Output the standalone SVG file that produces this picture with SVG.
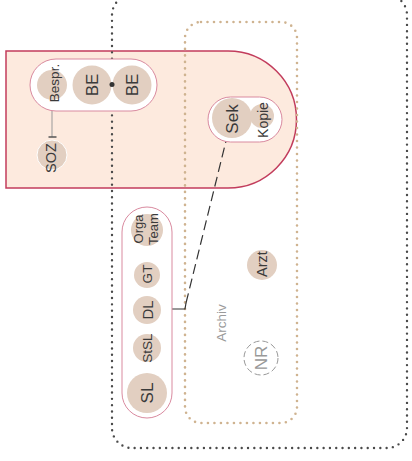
<svg xmlns="http://www.w3.org/2000/svg" width="412" height="461" viewBox="0 0 412 461">
<style>
.lbl{font-family:"Liberation Sans",Arial,sans-serif;fill:#3a3a3a;text-anchor:middle;dominant-baseline:central}
.c{fill:#e2cfc1}
.pill{fill:#fff;stroke:#d98a9f;stroke-width:1}
</style>
<rect width="412" height="461" fill="#fff"/>
<g id="zone-red">
<path d="M6,51 H228 A68.5,68.5 0 0 1 228,188 H6 Z" fill="#fdeade" stroke="#c23c5c" stroke-width="1.5"/>
</g>
<g id="zone-outer">
<rect x="112" y="-5" width="295" height="453" rx="20" fill="none" stroke="#4a4a4a" stroke-width="2.4" stroke-linecap="round" stroke-dasharray="0 6.3"/>
</g>
<g id="zone-archiv">
<rect x="185" y="22" width="112" height="401" rx="16" fill="none" stroke="#cfb390" stroke-width="2.6" stroke-linecap="round" stroke-dasharray="0 6.5"/>
<text class="lbl" transform="translate(221,323) rotate(-90)" font-size="13.5" style="fill:#9a9a9a">Archiv</text>
</g>
<g id="connectors">
<line x1="52" y1="111" x2="52" y2="137" stroke="#999" stroke-width="1"/>
<line x1="48.5" y1="137" x2="56.5" y2="137" stroke="#555" stroke-width="1.5"/>
<polyline points="172,309 185,309 186,303" fill="none" stroke="#333" stroke-width="1.2"/>
<line x1="186" y1="303" x2="226" y2="141" stroke="#333" stroke-width="1.2" stroke-dasharray="10 5"/>
</g>
<g id="grp-be">
<rect class="pill" x="30" y="59" width="127" height="52" rx="26"/>
<circle class="c" cx="52" cy="85" r="15"/>
<text class="lbl" transform="translate(54,83) rotate(-90)" font-size="13.5">Bespr.</text>
<circle class="c" cx="92" cy="85" r="19.5"/>
<text class="lbl" transform="translate(92,85) rotate(-90)" font-size="17">BE</text>
<circle class="c" cx="132" cy="85" r="19.5"/>
<text class="lbl" transform="translate(132,85) rotate(-90)" font-size="17">BE</text>
<circle cx="112" cy="84.5" r="2.5" fill="#333"/>
</g>
<g id="soz">
<circle class="c" cx="52" cy="155" r="15" stroke="#fff" stroke-width="1"/>
<text class="lbl" transform="translate(51,158) rotate(-90)" font-size="14.5">SOZ</text>
</g>
<g id="grp-sek">
<rect class="pill" x="208" y="97" width="74" height="45" rx="22.5"/>
<circle class="c" cx="232" cy="118" r="20"/>
<text class="lbl" transform="translate(232,119) rotate(-90)" font-size="17">Sek</text>
<circle class="c" cx="262" cy="116" r="12"/>
<text class="lbl" transform="translate(262.5,120) rotate(-90)" font-size="14">Kopie</text>
</g>
<g id="grp-team">
<rect class="pill" x="122" y="207" width="50" height="211" rx="25"/>
<circle class="c" cx="147" cy="230" r="16"/>
<text class="lbl" transform="translate(145,229) rotate(-90)" font-size="13"><tspan x="0" dy="-7.5">Orga</tspan><tspan x="0" dy="15">Team</tspan></text>
<circle class="c" cx="147" cy="275" r="13"/>
<text class="lbl" transform="translate(147,274) rotate(-90)" font-size="13.5">GT</text>
<circle class="c" cx="147" cy="310" r="14"/>
<text class="lbl" transform="translate(147,310) rotate(-90)" font-size="15">DL</text>
<circle class="c" cx="147" cy="348" r="14"/>
<text class="lbl" transform="translate(147,348) rotate(-90)" font-size="13.5">StSL</text>
<circle class="c" cx="147" cy="393" r="20"/>
<text class="lbl" transform="translate(147,393) rotate(-90)" font-size="17">SL</text>
</g>
<g id="arzt">
<circle class="c" cx="262" cy="265" r="15"/>
<text class="lbl" transform="translate(262,264) rotate(-90)" font-size="14.5">Arzt</text>
</g>
<g id="nr">
<circle cx="261" cy="358" r="17" fill="none" stroke="#999" stroke-width="1" stroke-dasharray="6 3"/>
<text class="lbl" transform="translate(261,358) rotate(-90)" font-size="17" style="fill:#999">NR</text>
</g>
</svg>
